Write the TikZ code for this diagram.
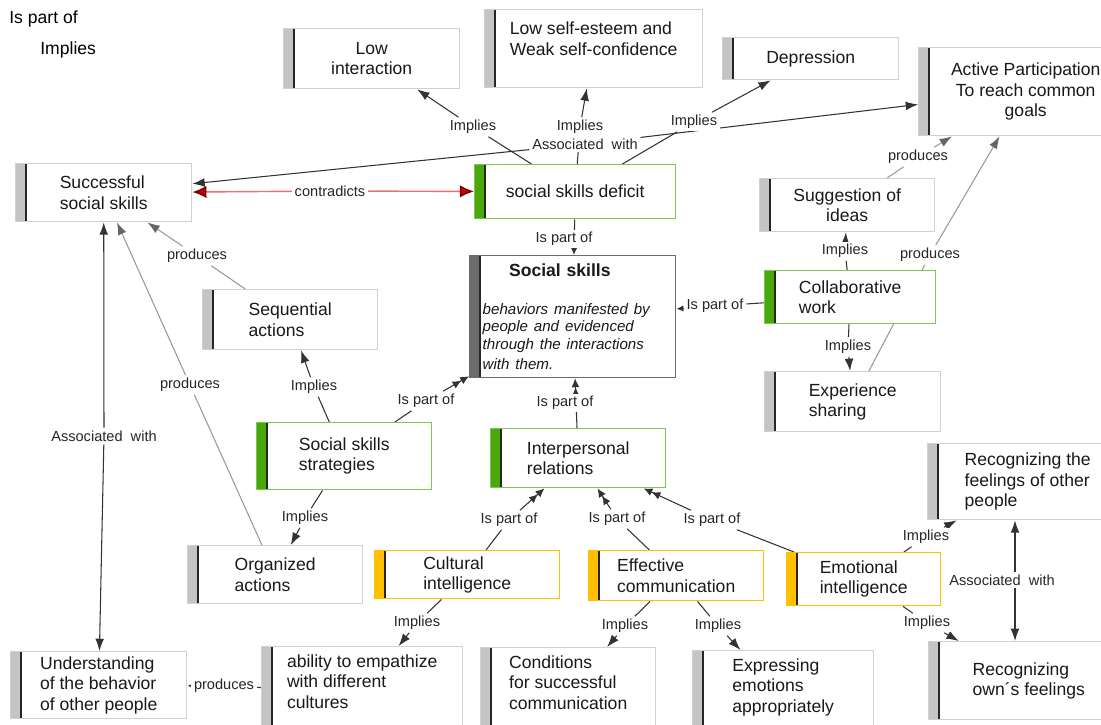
\documentclass[tikz,border=0pt]{standalone}
\usepackage{fontspec}
\setmainfont{Liberation Sans}
\usetikzlibrary{arrows.meta,backgrounds}
\definecolor{boxline}{HTML}{D0D0D0}
\definecolor{bargray}{HTML}{C4C4C4}
\definecolor{grnline}{HTML}{7CC653}
\definecolor{grnbar}{HTML}{4BA80C}
\definecolor{gold}{HTML}{FFC000}
\definecolor{darkbar}{HTML}{6B6B6B}
\definecolor{redline}{HTML}{E77272}
\tikzset{
    cbox/.style={draw=#1, fill=white, line width=0.8pt, anchor=north west, align=left, inner sep=2pt,
        text=black!90, font=\fontsize{10}{11.6}\selectfont},
    barfill/.style={path picture={
        \fill[#1] (path picture bounding box.north west) rectangle ([xshift=0.2cm]path picture bounding box.south west);
        \draw[black!85, line width=1pt] ([xshift=0.2cm]path picture bounding box.north west) -- ([xshift=0.2cm]path picture bounding box.south west);
    }},
    grayc/.style={cbox=boxline, barfill=bargray},
    greenc/.style={cbox=grnline, barfill=grnbar},
    goldc/.style={cbox=gold, barfill=gold},
    mainc/.style={cbox=darkbar, barfill=darkbar},
    wd/.style={minimum width=#1*0.02cm},
    ht/.style={minimum height=#1*0.02cm},
    lbl/.style={fill=white, inner sep=1.5pt, text=black!85, font=\fontsize{8.3}{9.5}\selectfont},
    lnk/.style={draw=black!80, line width=0.6pt},
    ar/.style={-{Latex[length=7pt,width=5pt]}},
    dbl/.style={-{Latex[length=5pt,width=4.5pt]Latex[length=5pt,width=4.5pt]}},
    sm/.style={-{Latex[length=4pt,width=3.5pt]}},
    prodl/.style={draw=black!40, line width=0.6pt},
    prod/.style={prodl, -{Latex[length=7pt,width=5pt,color=black!60]}},
    redl/.style={draw=redline, line width=0.8pt, -{Latex[length=8pt,width=7pt,color=red!45!black,fill=red!80!black]}}
}

\begin{document}
\begin{tikzpicture}[x=0.02cm, y=-0.02cm]
    \useasboundingbox (0,0) rectangle (1101,724);
    \clip (0,0) rectangle (1101,724);

    \node[anchor=west, inner sep=0, font=\fontsize{10}{12}\selectfont] (legPart) at (9,19) {Is part of};
    \node[anchor=west, inner sep=0, font=\fontsize{10}{12}\selectfont] (legImp) at (40,50) {Implies};

    \node[grayc, wd=176, ht=60, align=center] (lowint) at (283,28) {Low\\interaction};
    \node[grayc, wd=218, ht=78] (esteem) at (484,9) {Low self-esteem and\\Weak self-confidence\\\mbox{}};
    \node[grayc, wd=176, ht=42] (depress) at (722,37) {Depression};
    \node[grayc, wd=214, ht=88, align=center] (active) at (918,47) {Active Participation\\To reach common\\goals};
    \node[grayc, wd=176, ht=58] (success) at (15,163) {Successful\\social skills};
    \node[greenc, wd=201, ht=54] (deficit) at (474,164) {social skills deficit};
    \node[mainc, wd=206, ht=122, text width=3.6cm] (skills) at (469,255)
        {\hspace*{1.5em}\textbf{Social skills}\\[12pt]\itshape\fontsize{8.6}{9.8}\selectfont behaviors manifested by\\people and evidenced\\through the interactions\\with them.};
    \node[grayc, wd=175, ht=53, align=center] (suggest) at (759,178) {Suggestion of\\ideas};
    \node[greenc, wd=171, ht=53] (collab) at (764,270) {Collaborative\\work};
    \node[grayc, wd=176, ht=60] (sharing) at (764,371) {Experience\\sharing};
    \node[grayc, wd=175, ht=60] (sequent) at (202,289) {Sequential\\actions};
    \node[greenc, wd=175, ht=67] (strateg) at (256,422) {Social skills\\strategies};
    \node[greenc, wd=175, ht=59] (interp) at (490,428) {Interpersonal\\relations};
    \node[grayc, wd=175, ht=58] (organiz) at (187,545) {Organized\\actions};
    \node[goldc, wd=185, ht=48] (cultural) at (374,550) {Cultural\\intelligence};
    \node[goldc, wd=175, ht=50] (effect) at (588,550) {Effective\\communication};
    \node[goldc, wd=154, ht=53] (emotion) at (786,552) {Emotional\\intelligence};
    \node[grayc, wd=200, ht=76] (others) at (927,443) {Recognizing the\\feelings of other\\people};
    \node[grayc, wd=200, ht=78] (ownfeel) at (928,641) {Recognizing\\own´s feelings};
    \node[grayc, wd=176, ht=67] (underst) at (10,651) {Understanding\\of the behavior\\of other people};
    \node[grayc, wd=201, ht=90] (empath) at (261,646) {ability to empathize\\with different\\cultures\\\mbox{}};
    \node[grayc, wd=175, ht=90] (condit) at (480,647) {Conditions\\for successful\\communication\\\mbox{}};
    \node[grayc, wd=181, ht=90] (express) at (692,650) {Expressing\\emotions\\appropriately\\\mbox{}};

    \node[lbl] (imLow) at (473,127) {Implies};
    \node[lbl] (imEst) at (580,127) {Implies};
    \node[lbl] (asAct) at (585,144) {Associated~ with};
    \node[lbl] (imDep) at (694,122) {Implies};
    \node[lbl] (lCon) at (330,191) {contradicts};
    \node[lbl] (ipDef) at (564,239) {Is part of};
    \node[lbl] (ipCol) at (715,306) {Is part of};
    \node[lbl] (imSug) at (845,251) {Implies};
    \node[lbl] (imSha) at (848,347) {Implies};
    \node[lbl] (prSug) at (918,157) {produces};
    \node[lbl] (prSha) at (930,255) {produces};
    \node[lbl] (prSeq) at (197,256) {produces};
    \node[lbl] (prOrg) at (190,385) {produces};
    \node[lbl] (asUnd) at (104,436) {Associated~ with};
    \node[lbl] (imSeq) at (314,387) {Implies};
    \node[lbl] (ipStr) at (426,401) {Is part of};
    \node[lbl] (imOrg) at (305,518) {Implies};
    \node[lbl] (ipInt) at (565,403) {Is part of};
    \node[lbl] (ipCul) at (509,520) {Is part of};
    \node[lbl] (ipEff) at (617,519) {Is part of};
    \node[lbl] (ipEmo) at (712,520) {Is part of};
    \node[lbl] (imEmp) at (417,623) {Implies};
    \node[lbl] (imCon) at (625,626) {Implies};
    \node[lbl] (imExpr) at (718,626) {Implies};
    \node[lbl] (imOth) at (926,537) {Implies};
    \node[lbl] (imOwn) at (927,623) {Implies};
    \node[lbl] (asRec) at (1002,580) {Associated~ with};
    \node[lbl] (prEmp) at (224,686) {produces};
    \coordinate (recx) at (1015,580);

    \begin{scope}[on background layer]
        \fill[white] (0,0) rectangle (1101,724);
        \draw[lnk] (deficit) -- (imLow);  \draw[lnk, ar] (imLow) -- (lowint);
        \draw[lnk] (deficit) -- (imEst);  \draw[lnk, ar] (imEst) -- (esteem);
        \draw[lnk] (deficit) -- (imDep);  \draw[lnk, ar] (imDep) -- (depress);
        \draw[lnk, ar] (asAct) -- (success);  \draw[lnk, ar] (asAct) -- (active);
        \draw[redl] (lCon) -- (success);  \draw[redl] (lCon) -- (deficit);
        \draw[lnk, sm] (deficit) -- (skills);
        \draw[lnk] (collab) -- (ipCol);  \draw[lnk, sm] (ipCol) -- (skills);
        \draw[lnk] (collab) -- (imSug);  \draw[lnk, ar] (imSug) -- (suggest);
        \draw[lnk] (collab) -- (imSha);  \draw[lnk, ar] (imSha) -- (sharing);
        \draw[prodl] (suggest) -- (prSug);  \draw[prod] (prSug) -- (active);
        \draw[prodl] (sharing) -- (prSha);  \draw[prod] (prSha) -- (active);
        \draw[prodl] (sequent) -- (prSeq);  \draw[prod] (prSeq) -- (success);
        \draw[prodl] (organiz) -- (prOrg);  \draw[prod] (prOrg) -- (success);
        \draw[lnk, ar] (asUnd) -- (success);  \draw[lnk, ar] (asUnd) -- (underst);
        \draw[lnk] (strateg) -- (imSeq);  \draw[lnk, ar] (imSeq) -- (sequent);
        \draw[lnk] (strateg) -- (imOrg);  \draw[lnk, ar] (imOrg) -- (organiz);
        \draw[lnk] (strateg) -- (ipStr);  \draw[lnk, dbl] (ipStr) -- (skills);
        \draw[lnk, dbl] (interp) -- (skills);
        \draw[lnk] (cultural) -- (ipCul);  \draw[lnk, dbl] (ipCul) -- (interp);
        \draw[lnk] (effect) -- (ipEff);  \draw[lnk, dbl] (ipEff) -- (interp);
        \draw[lnk] (emotion) -- (ipEmo);  \draw[lnk, dbl] (ipEmo) -- (interp);
        \draw[lnk] (cultural) -- (imEmp);  \draw[lnk, ar] (imEmp) -- (empath);
        \draw[lnk] (effect) -- (imCon);  \draw[lnk, ar] (imCon) -- (condit);
        \draw[lnk] (effect) -- (imExpr);  \draw[lnk, ar] (imExpr) -- (express);
        \draw[lnk] (emotion) -- (imOth);  \draw[lnk, ar] (imOth) -- (others);
        \draw[lnk] (emotion) -- (imOwn);  \draw[lnk, ar] (imOwn) -- (ownfeel);
        \draw[lnk, ar] (recx |- asRec.north) -- (recx |- others.south);
        \draw[lnk, ar] (recx |- asRec.south) -- (recx |- ownfeel.north);
        \draw[lnk] (empath) -- (prEmp);  \draw[lnk, sm] (prEmp) -- (underst);
    \end{scope}
\end{tikzpicture}
\end{document}
